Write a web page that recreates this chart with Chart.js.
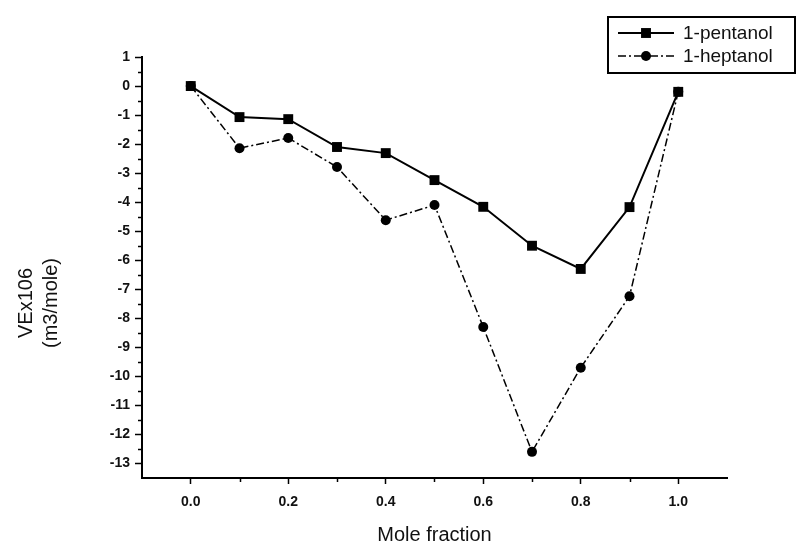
<!DOCTYPE html>
<html>
<head>
<meta charset="utf-8">
<script src="https://cdn.jsdelivr.net/npm/chart.js@4.4.0/dist/chart.umd.min.js"></script>
<style>
html,body{margin:0;padding:0;background:#fff;}
#wrap{width:802px;height:557px;position:relative;}
canvas{display:block;}
</style>
</head>
<body>
<div id="wrap"><canvas id="c" width="802" height="557"></canvas></div>
<script>
// ---- data ----
const moleFraction = [0.0, 0.1, 0.2, 0.3, 0.4, 0.5, 0.6, 0.7, 0.8, 0.9, 1.0];
const pentanol = [0, -1.07, -1.14, -2.1, -2.31, -3.24, -4.16, -5.5, -6.3, -4.17, -0.2];
const heptanol = [0, -2.14, -1.79, -2.79, -4.62, -4.1, -8.3, -12.6, -9.7, -7.24, -0.2];
const seriesNames = ['1-pentanol', '1-heptanol'];
const xMajorTicks = [0.0, 0.2, 0.4, 0.6, 0.8, 1.0];
const xMinorTicks = [0.1, 0.3, 0.5, 0.7, 0.9];
const yMajorTicks = [1, 0, -1, -2, -3, -4, -5, -6, -7, -8, -9, -10, -11, -12, -13];
const yMinorTicks = [0.5, -0.5, -1.5, -2.5, -3.5, -4.5, -5.5, -6.5, -7.5, -8.5, -9.5, -10.5, -11.5, -12.5];
const xTitle = 'Mole fraction';
const yTitleLines = ['VEx106', '(m3/mole)'];

const FONT = "'Liberation Sans', Arial, sans-serif";

const toPoints = (xs, ys) => xs.map((x, i) => ({x: x, y: ys[i]}));

const minorTicksPlugin = {
  id: 'minorTicks',
  afterDraw(chart) {
    const ctx = chart.ctx;
    const xs = chart.scales.x, ys = chart.scales.y;
    ctx.save();
    ctx.strokeStyle = '#000';
    ctx.lineWidth = 1.5;
    xMinorTicks.forEach(v => {
      const px = Math.round(xs.getPixelForValue(v)) + 0.5;
      ctx.beginPath(); ctx.moveTo(px, xs.top); ctx.lineTo(px, xs.top + 4); ctx.stroke();
    });
    yMinorTicks.forEach(v => {
      const py = Math.round(ys.getPixelForValue(v)) + 0.5;
      ctx.beginPath(); ctx.moveTo(ys.right - 4, py); ctx.lineTo(ys.right, py); ctx.stroke();
    });
    ctx.restore();
  }
};

const yTitlePlugin = {
  id: 'yTitle',
  afterDraw(chart) {
    const ctx = chart.ctx;
    ctx.save();
    ctx.fillStyle = '#111';
    ctx.font = '20px ' + FONT;
    ctx.textAlign = 'center';
    ctx.textBaseline = 'middle';
    const centers = [26, 51];
    yTitleLines.forEach((t, i) => {
      ctx.save();
      ctx.translate(centers[i], 303);
      ctx.rotate(-Math.PI / 2);
      ctx.fillText(t, 0, 0);
      ctx.restore();
    });
    ctx.restore();
  }
};

const legendPlugin = {
  id: 'boxLegend',
  afterDraw(chart) {
    const ctx = chart.ctx;
    const bx = 608, by = 17, bw = 187, bh = 56;
    ctx.save();
    ctx.fillStyle = '#fff';
    ctx.fillRect(bx, by, bw, bh);
    ctx.strokeStyle = '#000';
    ctx.lineWidth = 2;
    ctx.strokeRect(bx, by, bw, bh);
    const rows = [33, 56];
    chart.data.datasets.forEach((ds, i) => {
      const yy = rows[i];
      ctx.save();
      ctx.strokeStyle = ds.borderColor;
      ctx.lineWidth = ds.borderWidth;
      ctx.setLineDash(ds.borderDash || []);
      ctx.beginPath(); ctx.moveTo(618, yy); ctx.lineTo(674, yy); ctx.stroke();
      ctx.restore();
      ctx.save();
      ctx.fillStyle = ds.pointBackgroundColor;
      ctx.strokeStyle = ds.pointBorderColor;
      ctx.setLineDash([]);
      Chart.helpers.drawPoint(ctx, {
        pointStyle: ds.pointStyle, radius: ds.pointRadius, borderWidth: 0
      }, 646, yy);
      ctx.restore();
      ctx.fillStyle = '#111';
      ctx.font = '19px ' + FONT;
      ctx.textAlign = 'left';
      ctx.textBaseline = 'middle';
      ctx.fillText(ds.label, 683, yy + 1);
    });
    ctx.restore();
  }
};

new Chart(document.getElementById('c'), {
  type: 'line',
  data: {
    datasets: [
      {
        label: seriesNames[0],
        data: toPoints(moleFraction, pentanol),
        borderColor: '#000', backgroundColor: '#000',
        borderWidth: 2, pointStyle: 'rect', pointRadius: 7,
        pointBackgroundColor: '#000', pointBorderColor: '#000', pointBorderWidth: 0,
        tension: 0, fill: false
      },
      {
        label: seriesNames[1],
        data: toPoints(moleFraction, heptanol),
        borderColor: '#000', backgroundColor: '#000',
        borderWidth: 1.5, borderDash: [8, 3, 2, 3],
        pointStyle: 'circle', pointRadius: 5,
        pointBackgroundColor: '#000', pointBorderColor: '#000', pointBorderWidth: 0,
        tension: 0, fill: false
      }
    ]
  },
  options: {
    responsive: false,
    animation: false,
    devicePixelRatio: 1,
    layout: { padding: { top: 57, right: 75, left: 0, bottom: 0 } },
    plugins: { legend: { display: false }, tooltip: { enabled: false }, title: { display: false } },
    scales: {
      x: {
        type: 'linear', min: -0.1, max: 1.1,
        afterBuildTicks: s => { s.ticks = xMajorTicks.map(v => ({value: v})); },
        afterFit: s => { s.height = 79; },
        grid: { drawOnChartArea: false, drawTicks: true, tickLength: 6, tickColor: '#000', tickWidth: 1.5 },
        border: { display: true, color: '#000', width: 2 },
        ticks: {
          color: '#111', padding: 10, maxRotation: 0, autoSkip: false,
          font: { family: FONT, size: 14, weight: 'bold' },
          callback: v => Number(v).toFixed(1)
        },
        title: {
          display: true, text: xTitle, color: '#111',
          font: { family: FONT, size: 20 },
          padding: { top: 0, bottom: 10 }
        }
      },
      y: {
        type: 'linear', min: -13.5, max: 1,
        afterBuildTicks: s => { s.ticks = yMajorTicks.map(v => ({value: v})); },
        afterFit: s => { s.width = 142; },
        grid: { drawOnChartArea: false, drawTicks: true, tickLength: 7, tickColor: '#000', tickWidth: 1.5 },
        border: { display: true, color: '#000', width: 2 },
        ticks: {
          color: '#111', padding: 5, autoSkip: false,
          font: { family: FONT, size: 14, weight: 'bold' },
          callback: v => String(v)
        }
      }
    }
  },
  plugins: [minorTicksPlugin, yTitlePlugin, legendPlugin]
});
</script>
</body>
</html>
